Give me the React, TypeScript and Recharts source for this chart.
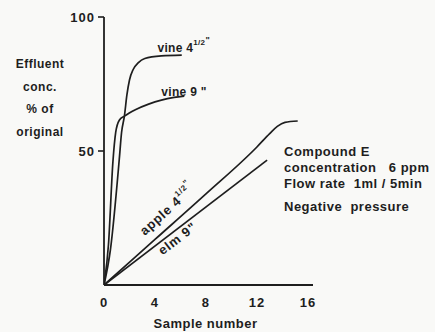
import React from "react";
import { LineChart, Line, XAxis, YAxis, ReferenceDot } from "recharts";

// [sample number, effluent conc. % of original]
const vine45 = [
  [0, 0], [0.5, 13], [1.2, 47], [1.38, 57], [1.6, 63], [1.8, 71], [2.0, 76.5],
  [2.3, 80.5], [2.7, 83], [3.2, 84.5], [4.5, 85.5], [6.1, 85.8],
];
const vine9 = [
  [0, 0], [0.35, 15], [0.7, 46], [0.92, 57], [1.2, 61.5], [1.6, 63], [2.5, 65.5],
  [3.5, 67.5], [4.5, 69], [5.5, 70], [6.3, 70.5],
];
const apple45 = [
  [0, 0], [4, 17], [8, 34], [12, 51.5], [13, 56.5], [13.6, 59.2], [14.2, 60.7], [15.2, 61.2],
];
const elm9 = [[0, 0], [12.8, 46.6]];

const xTicks = [0, 4, 8, 12, 16];
const yTicks = [50, 100];

// curve names, placed in data coordinates
const tags = [
  { main: "vine 4", sup: "1/2", mark: "\"", x: 4.2, y: 87, angle: 0 },
  { main: "vine 9", sup: "", mark: " \"", x: 4.5, y: 70.5, angle: 0 },
  { main: "apple 4", sup: "1/2", mark: "\"", x: 3.2, y: 18.3, angle: -42 },
  { main: "elm 9", sup: "", mark: "\"", x: 4.6, y: 11, angle: -37.5 },
];

const yTitle = ["Effluent", "conc.", "% of", "original"];
const notes = ["Compound E", "concentration   6 ppm", "Flow rate  1ml / 5min", "Negative  pressure"];

const ink = "#1e1e1e";
const font = "'Liberation Sans', Arial, sans-serif";

const toPoints = (rows: number[][]) => rows.map(([x, y]) => ({ x, y }));

function tagShape(tag: (typeof tags)[number]) {
  const size = tag.angle ? 13 : 12;
  return (p: any) => (
    <text
      x={p.cx}
      y={p.cy}
      transform={tag.angle ? `rotate(${tag.angle} ${p.cx} ${p.cy})` : undefined}
      fill={ink}
      fontFamily={font}
      fontWeight="bold"
      fontSize={size}
      letterSpacing={tag.angle ? 0.8 : 0.3}
    >
      {tag.main}
      {tag.sup && (
        <tspan dy={-7} fontSize={8}>
          {tag.sup}
        </tspan>
      )}
      <tspan dy={tag.sup ? -2 : 0} fontSize={tag.sup ? 9 : size}>
        {tag.mark}
      </tspan>
    </text>
  );
}

export default function App() {
  const tickStyle = { fill: ink, fontFamily: font, fontWeight: "bold", fontSize: 13, letterSpacing: 1 };
  const textProps = { fill: ink, fontFamily: font, fontWeight: "bold" as const, fontSize: 13, letterSpacing: 0.5 };

  return (
    <div style={{ position: "absolute", left: 0, top: 0, width: 435, height: 332, background: "#f9f9f7" }}>
      <LineChart width={435} height={332} margin={{ top: 17, right: 122, bottom: 0, left: 0 }}>
        <XAxis
          type="number"
          dataKey="x"
          domain={[0, 16.4]}
          ticks={xTicks}
          allowDataOverflow
          height={47}
          tickLine={false}
          tickSize={0}
          tickMargin={13}
          tick={tickStyle}
          axisLine={{ stroke: ink, strokeWidth: 1.8 }}
          label={{ value: "Sample number", position: "insideBottom", offset: 4, dx: -3, ...textProps }}
        />
        <YAxis
          type="number"
          dataKey="y"
          domain={[0, 100]}
          ticks={yTicks}
          width={104}
          tickSize={6}
          tickMargin={3}
          tick={tickStyle}
          tickLine={{ stroke: ink, strokeWidth: 1.6 }}
          axisLine={{ stroke: ink, strokeWidth: 1.8 }}
        />
        {[vine45, vine9, apple45, elm9].map((rows, i) => (
          <Line
            key={i}
            data={toPoints(rows)}
            dataKey="y"
            type="monotone"
            stroke={ink}
            strokeWidth={1.7}
            dot={false}
            isAnimationActive={false}
          />
        ))}
        {tags.map((t) => (
          <ReferenceDot key={t.main} x={t.x} y={t.y} r={1} shape={tagShape(t)} />
        ))}
      </LineChart>
      <svg width={435} height={332} style={{ position: "absolute", left: 0, top: 0, pointerEvents: "none" }}>
        {yTitle.map((s, i) => (
          <text key={s} x={40} y={68 + i * 22.5} textAnchor="middle" {...textProps} fontSize={12}>
            {s}
          </text>
        ))}
        {notes.map((s, i) => (
          <text key={s} x={284} y={[156, 172, 188, 211][i]} {...textProps} style={{ whiteSpace: "pre" }}>
            {s}
          </text>
        ))}
      </svg>
    </div>
  );
}
